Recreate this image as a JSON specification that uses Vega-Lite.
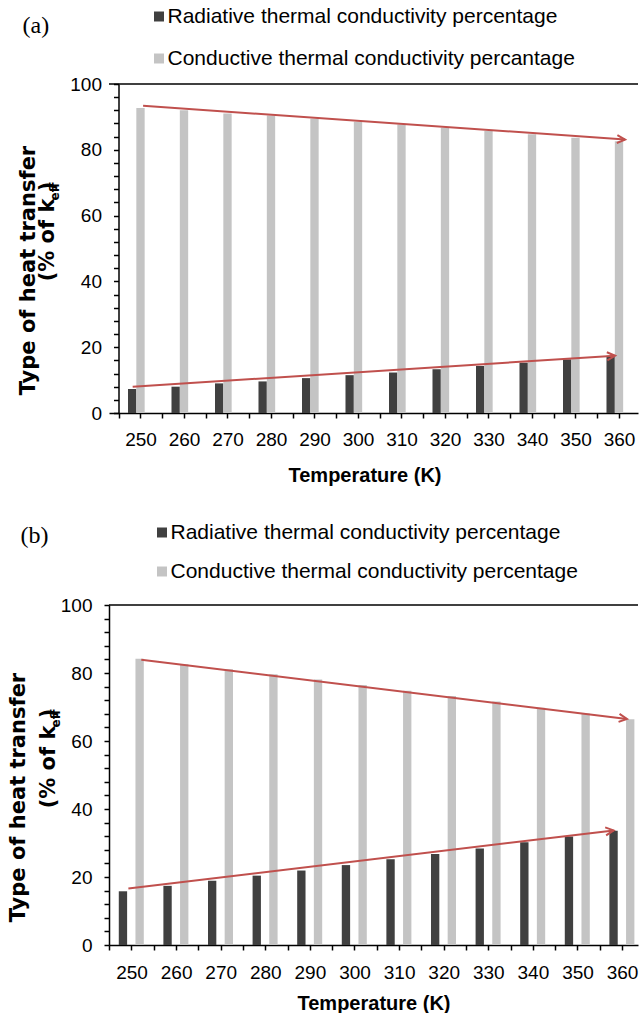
{
  "$schema": "https://vega.github.io/schema/vega-lite/v6.json",
  "background": "white",
  "padding": {"left": 7, "top": 6, "right": 0, "bottom": 0},
  "columns": 1,
  "spacing": 37,
  "resolve": {"scale": {"color": "independent"}, "legend": {"color": "independent"}},
  "config": {"view": {"stroke": null}, "font": "Liberation Sans", "axis": {"grid": false}},
  "datasets": {
    "barsA": [
      {"T": 250, "type": "Radiative thermal conductivity percentage", "value": 7.3},
      {"T": 250, "type": "Conductive thermal conductivity percantage", "value": 92.7},
      {"T": 260, "type": "Radiative thermal conductivity percentage", "value": 8.0},
      {"T": 260, "type": "Conductive thermal conductivity percantage", "value": 92.0},
      {"T": 270, "type": "Radiative thermal conductivity percentage", "value": 9.0},
      {"T": 270, "type": "Conductive thermal conductivity percantage", "value": 91.0},
      {"T": 280, "type": "Radiative thermal conductivity percentage", "value": 9.6},
      {"T": 280, "type": "Conductive thermal conductivity percantage", "value": 90.4},
      {"T": 290, "type": "Radiative thermal conductivity percentage", "value": 10.6},
      {"T": 290, "type": "Conductive thermal conductivity percantage", "value": 89.4},
      {"T": 300, "type": "Radiative thermal conductivity percentage", "value": 11.5},
      {"T": 300, "type": "Conductive thermal conductivity percantage", "value": 88.5},
      {"T": 310, "type": "Radiative thermal conductivity percentage", "value": 12.3},
      {"T": 310, "type": "Conductive thermal conductivity percantage", "value": 87.7},
      {"T": 320, "type": "Radiative thermal conductivity percentage", "value": 13.3},
      {"T": 320, "type": "Conductive thermal conductivity percantage", "value": 86.7},
      {"T": 330, "type": "Radiative thermal conductivity percentage", "value": 14.3},
      {"T": 330, "type": "Conductive thermal conductivity percantage", "value": 85.7},
      {"T": 340, "type": "Radiative thermal conductivity percentage", "value": 15.3},
      {"T": 340, "type": "Conductive thermal conductivity percantage", "value": 84.7},
      {"T": 350, "type": "Radiative thermal conductivity percentage", "value": 16.3},
      {"T": 350, "type": "Conductive thermal conductivity percantage", "value": 83.7},
      {"T": 360, "type": "Radiative thermal conductivity percentage", "value": 17.4},
      {"T": 360, "type": "Conductive thermal conductivity percantage", "value": 82.6}
    ],
    "arrowsA": [
      {"arrow": "upper", "T": 250.6, "v": 93.4},
      {"arrow": "upper", "T": 361.4, "v": 83.1},
      {"arrow": "lower", "T": 248.2, "v": 8.0},
      {"arrow": "lower", "T": 359.1, "v": 17.4}
    ],
    "barsB": [
      {"T": 250, "type": "Radiative thermal conductivity percentage", "value": 15.8},
      {"T": 250, "type": "Conductive thermal conductivity percentage", "value": 84.2},
      {"T": 260, "type": "Radiative thermal conductivity percentage", "value": 17.4},
      {"T": 260, "type": "Conductive thermal conductivity percentage", "value": 82.6},
      {"T": 270, "type": "Radiative thermal conductivity percentage", "value": 18.9},
      {"T": 270, "type": "Conductive thermal conductivity percentage", "value": 81.1},
      {"T": 280, "type": "Radiative thermal conductivity percentage", "value": 20.4},
      {"T": 280, "type": "Conductive thermal conductivity percentage", "value": 79.6},
      {"T": 290, "type": "Radiative thermal conductivity percentage", "value": 21.9},
      {"T": 290, "type": "Conductive thermal conductivity percentage", "value": 78.1},
      {"T": 300, "type": "Radiative thermal conductivity percentage", "value": 23.5},
      {"T": 300, "type": "Conductive thermal conductivity percentage", "value": 76.5},
      {"T": 310, "type": "Radiative thermal conductivity percentage", "value": 25.2},
      {"T": 310, "type": "Conductive thermal conductivity percentage", "value": 74.8},
      {"T": 320, "type": "Radiative thermal conductivity percentage", "value": 26.8},
      {"T": 320, "type": "Conductive thermal conductivity percentage", "value": 73.2},
      {"T": 330, "type": "Radiative thermal conductivity percentage", "value": 28.4},
      {"T": 330, "type": "Conductive thermal conductivity percentage", "value": 71.6},
      {"T": 340, "type": "Radiative thermal conductivity percentage", "value": 30.2},
      {"T": 340, "type": "Conductive thermal conductivity percentage", "value": 69.8},
      {"T": 350, "type": "Radiative thermal conductivity percentage", "value": 31.9},
      {"T": 350, "type": "Conductive thermal conductivity percentage", "value": 68.1},
      {"T": 360, "type": "Radiative thermal conductivity percentage", "value": 33.6},
      {"T": 360, "type": "Conductive thermal conductivity percentage", "value": 66.4}
    ],
    "arrowsB": [
      {"arrow": "upper", "T": 252.2, "v": 83.9},
      {"arrow": "upper", "T": 361.1, "v": 66.5},
      {"arrow": "lower", "T": 249.3, "v": 16.6},
      {"arrow": "lower", "T": 358.1, "v": 33.7}
    ]
  },
  "concat": [
    {
      "title": {"text": "(a)", "orient": "top", "anchor": "start", "frame": "group", "dx": -86.5, "dy": 44, "baseline": "middle", "font": "Liberation Serif", "fontSize": 24, "fontWeight": "normal", "color": "black", "offset": 0},
      "width": 529,
      "height": 329,
      "resolve": {"scale": {"x": "independent"}, "axis": {"x": "independent", "y": "independent"}},
      "layer": [
        {
          "data": {"name": "barsA"},
          "mark": {"type": "bar"},
          "encoding": {
            "x": {"field": "T", "type": "ordinal", "axis": null, "scale": {"paddingInner": 0.425, "paddingOuter": 0.293, "align": 0.745}},
            "xOffset": {"field": "type", "type": "nominal", "scale": {"paddingInner": 0, "paddingOuter": 0}, "sort": ["Radiative thermal conductivity percentage", "Conductive thermal conductivity percantage"]},
            "y": {"field": "value", "type": "quantitative", "scale": {"domain": [0, 100], "nice": false},
              "axis": {"orient": "left", "offset": -9.5, "values": [0,4,8,12,16,20,24,28,32,36,40,44,48,52,56,60,64,68,72,76,80,84,88,92,96,100], "labelExpr": "datum.value % 20 === 0 ? datum.label : ''", "labelOverlap": false, "tickSize": 5, "tickWidth": 1.5, "tickColor": "black", "domainColor": "black", "domainWidth": 1.5, "labelFont": "Liberation Sans", "labelFontSize": 19, "labelColor": "black", "labelPadding": 12, "grid": false,
                "title": "Type of heat transfer", "titleFont": "DejaVu Sans", "titleFontSize": 21, "titleFontWeight": "bold", "titleColor": "black", "titleAngle": -90, "titleAlign": "center", "titleBaseline": "middle", "titleX": -90, "titleY": 186}},
            "color": {"field": "type", "type": "nominal", "scale": {"domain": ["Radiative thermal conductivity percentage", "Conductive thermal conductivity percantage"], "range": ["#404040", "#c4c4c4"]},
              "legend": {"orient": "none", "legendX": 39.5, "legendY": -78, "direction": "vertical", "title": null, "symbolType": "square", "symbolSize": 100, "symbolStrokeWidth": 0, "labelFont": "Liberation Sans", "labelFontSize": 21, "labelColor": "black", "rowPadding": 20, "labelOffset": -2, "padding": 0, "labelLimit": 0}}
          }
        },
        {
          "data": {"values": [{}]},
          "mark": {"type": "rule", "color": "black", "strokeWidth": 1.5},
          "encoding": {"y": {"datum": 100, "type": "quantitative",
            "axis": {"orient": "left", "offset": -9.5, "labels": false, "ticks": false, "domain": false, "grid": false, "title": "(% of k    )", "titleFont": "DejaVu Sans", "titleFontSize": 21, "titleFontWeight": "bold", "titleColor": "black", "titleAngle": -90, "titleAlign": "center", "titleBaseline": "middle", "titleX": -71, "titleY": 147}}}
        },
        {
          "data": {"name": "arrowsA"},
          "mark": {"type": "line", "color": "#c0504d", "strokeWidth": 2},
          "encoding": {
            "x": {"field": "T", "type": "quantitative", "scale": {"domain": [242.76, 364.37], "nice": false, "zero": false},
              "axis": {"orient": "bottom", "values": [245,250,255,260,265,270,275,280,285,290,295,300,305,310,315,320,325,330,335,340,345,350,355,360], "format": "d", "labelExpr": "datum.value % 10 === 0 ? datum.label : ''", "labelOverlap": false, "labelFlush": false, "labelBound": false, "tickSize": 5, "tickWidth": 1.5, "tickColor": "black", "domainColor": "black", "domainWidth": 1.5, "labelFont": "Liberation Sans", "labelFontSize": 19, "labelColor": "black", "labelPadding": 12, "grid": false,
                "title": "Temperature (K)", "titleFont": "Liberation Sans", "titleFontSize": 20, "titleFontWeight": "bold", "titleColor": "black", "titlePadding": 16, "titleX": 255.5}},
            "y": {"field": "v", "type": "quantitative", "axis": null},
            "detail": {"field": "arrow"}
          }
        },
        {
          "data": {"name": "arrowsA"},
          "transform": [{"filter": "datum.arrow === 'upper' && datum.T > 355"}],
          "mark": {"type": "point", "shape": "M-2,-1L0,0L-2,1", "filled": false, "size": 64, "strokeWidth": 2, "color": "#c0504d", "opacity": 1, "angle": 4},
          "encoding": {
            "x": {"field": "T", "type": "quantitative", "scale": {"domain": [242.76, 364.37], "nice": false, "zero": false}, "axis": null},
            "y": {"field": "v", "type": "quantitative",
              "axis": {"orient": "left", "offset": -9.5, "labels": false, "ticks": false, "domain": false, "grid": false, "title": "eff", "titleFont": "DejaVu Sans", "titleFontSize": 12, "titleFontWeight": "bold", "titleColor": "black", "titleAngle": -90, "titleAlign": "center", "titleBaseline": "middle", "titleX": -64, "titleY": 107}}
          }
        },
        {
          "data": {"name": "arrowsA"},
          "transform": [{"filter": "datum.arrow === 'lower' && datum.T > 355"}],
          "mark": {"type": "point", "shape": "M-2,-1L0,0L-2,1", "filled": false, "size": 64, "strokeWidth": 2, "color": "#c0504d", "opacity": 1, "angle": -3.7},
          "encoding": {
            "x": {"field": "T", "type": "quantitative", "scale": {"domain": [242.76, 364.37], "nice": false, "zero": false}, "axis": null},
            "y": {"field": "v", "type": "quantitative", "axis": null}
          }
        }
      ]
    },
    {
      "title": {"text": "(b)", "orient": "top", "anchor": "start", "frame": "group", "dx": -88.5, "dy": 38, "baseline": "middle", "font": "Liberation Serif", "fontSize": 24, "fontWeight": "normal", "color": "black", "offset": 0},
      "width": 529,
      "height": 340,
      "resolve": {"scale": {"x": "independent"}, "axis": {"x": "independent", "y": "independent"}},
      "layer": [
        {
          "data": {"name": "barsB"},
          "mark": {"type": "bar"},
          "encoding": {
            "x": {"field": "T", "type": "ordinal", "axis": null, "scale": {"paddingInner": 0.43, "paddingOuter": 0.1455, "align": 0.754}},
            "xOffset": {"field": "type", "type": "nominal", "scale": {"paddingInner": 0, "paddingOuter": 0}, "sort": ["Radiative thermal conductivity percentage", "Conductive thermal conductivity percentage"]},
            "y": {"field": "value", "type": "quantitative", "scale": {"domain": [0, 100], "nice": false},
              "axis": {"orient": "left", "values": [0,4,8,12,16,20,24,28,32,36,40,44,48,52,56,60,64,68,72,76,80,84,88,92,96,100], "labelExpr": "datum.value % 20 === 0 ? datum.label : ''", "labelOverlap": false, "tickSize": 5, "tickWidth": 1.5, "tickColor": "black", "domainColor": "black", "domainWidth": 1.5, "labelFont": "Liberation Sans", "labelFontSize": 19, "labelColor": "black", "labelPadding": 12, "grid": false,
                "title": "Type of heat transfer", "titleFont": "DejaVu Sans", "titleFontSize": 21, "titleFontWeight": "bold", "titleColor": "black", "titleAngle": -90, "titleAlign": "center", "titleBaseline": "middle", "titleX": -91, "titleY": 192}},
            "color": {"field": "type", "type": "nominal", "scale": {"domain": ["Radiative thermal conductivity percentage", "Conductive thermal conductivity percentage"], "range": ["#404040", "#c4c4c4"]},
              "legend": {"orient": "none", "legendX": 42.5, "legendY": -83, "direction": "vertical", "title": null, "symbolType": "square", "symbolSize": 100, "symbolStrokeWidth": 0, "labelFont": "Liberation Sans", "labelFontSize": 21, "labelColor": "black", "rowPadding": 17, "labelOffset": -2, "padding": 0, "labelLimit": 0}}
          }
        },
        {
          "data": {"values": [{}]},
          "mark": {"type": "rule", "color": "black", "strokeWidth": 1.5},
          "encoding": {"y": {"datum": 100, "type": "quantitative",
            "axis": {"orient": "left", "labels": false, "ticks": false, "domain": false, "grid": false, "title": "(% of k    )", "titleFont": "DejaVu Sans", "titleFontSize": 21, "titleFontWeight": "bold", "titleColor": "black", "titleAngle": -90, "titleAlign": "center", "titleBaseline": "middle", "titleX": -61, "titleY": 153}}}
        },
        {
          "data": {"name": "arrowsB"},
          "mark": {"type": "line", "color": "#c0504d", "strokeWidth": 2},
          "encoding": {
            "x": {"field": "T", "type": "quantitative", "scale": {"domain": [244.955, 363.57], "nice": false, "zero": false},
              "axis": {"orient": "bottom", "values": [245,250,255,260,265,270,275,280,285,290,295,300,305,310,315,320,325,330,335,340,345,350,355,360], "format": "d", "labelExpr": "datum.value % 10 === 0 ? datum.label : ''", "labelOverlap": false, "labelFlush": false, "labelBound": false, "tickSize": 5, "tickWidth": 1.5, "tickColor": "black", "domainColor": "black", "domainWidth": 1.5, "labelFont": "Liberation Sans", "labelFontSize": 19, "labelColor": "black", "labelPadding": 13, "grid": false,
                "title": "Temperature (K)", "titleFont": "Liberation Sans", "titleFontSize": 20, "titleFontWeight": "bold", "titleColor": "black", "titlePadding": 11}},
            "y": {"field": "v", "type": "quantitative", "axis": null},
            "detail": {"field": "arrow"}
          }
        },
        {
          "data": {"name": "arrowsB"},
          "transform": [{"filter": "datum.arrow === 'upper' && datum.T > 355"}],
          "mark": {"type": "point", "shape": "M-2,-1L0,0L-2,1", "filled": false, "size": 64, "strokeWidth": 2, "color": "#c0504d", "opacity": 1, "angle": 7},
          "encoding": {
            "x": {"field": "T", "type": "quantitative", "scale": {"domain": [244.955, 363.57], "nice": false, "zero": false}, "axis": null},
            "y": {"field": "v", "type": "quantitative",
              "axis": {"orient": "left", "labels": false, "ticks": false, "domain": false, "grid": false, "title": "eff", "titleFont": "DejaVu Sans", "titleFontSize": 12, "titleFontWeight": "bold", "titleColor": "black", "titleAngle": -90, "titleAlign": "center", "titleBaseline": "middle", "titleX": -54, "titleY": 113}}
          }
        },
        {
          "data": {"name": "arrowsB"},
          "transform": [{"filter": "datum.arrow === 'lower' && datum.T > 355"}],
          "mark": {"type": "point", "shape": "M-2,-1L0,0L-2,1", "filled": false, "size": 64, "strokeWidth": 2, "color": "#c0504d", "opacity": 1, "angle": -6.9},
          "encoding": {
            "x": {"field": "T", "type": "quantitative", "scale": {"domain": [244.955, 363.57], "nice": false, "zero": false}, "axis": null},
            "y": {"field": "v", "type": "quantitative", "axis": null}
          }
        }
      ]
    }
  ]
}
